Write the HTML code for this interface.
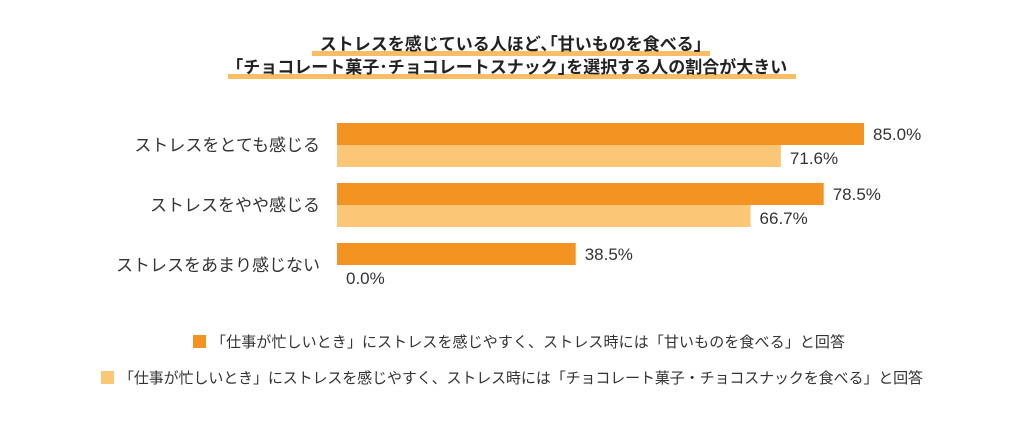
<!DOCTYPE html>
<html><head><meta charset="utf-8">
<style>
body{margin:0;background:#fff;width:1024px;height:428px;overflow:hidden;font-family:"Liberation Sans","Noto Sans CJK JP",sans-serif;}
svg text{font-family:"Liberation Sans","Noto Sans CJK JP",sans-serif;}
</style></head>
<body>
<svg id="chart" width="1024" height="428">
  <g>
    <rect x="312" y="51" width="398" height="5" fill="#f7b24a" opacity="0.85"/>
    <rect x="228" y="74" width="568" height="5" fill="#f7b24a" opacity="0.85"/>
    <text x="511" y="50" text-anchor="middle" font-size="17" font-weight="bold" fill="#222">ストレスを感じている人ほど､｢甘いものを食べる｣</text>
    <text x="511" y="73" text-anchor="middle" font-size="17" font-weight="bold" fill="#222">｢チョコレート菓子･チョコレートスナック｣を選択する人の割合が大きい</text>
  </g>
  <g id="bars"></g>
  <g>
    <rect x="193" y="335" width="13" height="13" fill="#f39321"/>
    <text x="211" y="347" font-size="15" fill="#333" textLength="634">「仕事が忙しいとき」にストレスを感じやすく、ストレス時には「甘いものを食べる」と回答</text>
    <rect x="101" y="371" width="13" height="13" fill="#fbc777"/>
    <text x="119" y="383" font-size="15" fill="#333" textLength="804">「仕事が忙しいとき」にストレスを感じやすく、ストレス時には「チョコレート菓子・チョコスナックを食べる」と回答</text>
  </g>
</svg>
<script>
const categories = ["ストレスをとても感じる","ストレスをやや感じる","ストレスをあまり感じない"];
const sweetsValues = [85.0, 78.5, 38.5];
const chocoValues = [71.6, 66.7, 0.0];
const valueLabelsSweets = ["85.0%","78.5%","38.5%"];
const valueLabelsChoco = ["71.6%","66.7%","0.0%"];

const NS="http://www.w3.org/2000/svg";
const x0=337, pxPer=6.2, groupTop=123, groupStep=60, barH=22;
function xScale(v){return x0+v*pxPer;}
function yScale(i){return groupTop+i*groupStep;}
const g=document.getElementById('bars');
function mk(tag,attrs){const e=document.createElementNS(NS,tag);for(const k in attrs)e.setAttribute(k,attrs[k]);return e;}
categories.forEach((c,i)=>{
  const y=yScale(i);
  const lab=mk('text',{x:320,y:y+barH+6,'text-anchor':'end','font-size':17,fill:'#333'});
  lab.textContent=c;
  
  
  g.appendChild(lab);
  const b1=mk('rect',{x:x0,y:y,width:xScale(sweetsValues[i])-x0,height:barH,fill:'#f39321'});
  
  
  g.appendChild(b1);
  const t1=mk('text',{x:xScale(sweetsValues[i])+9,y:y+17,'font-size':17,fill:'#333'});
  t1.textContent=valueLabelsSweets[i];
  
  
  g.appendChild(t1);
  const b2=mk('rect',{x:x0,y:y+barH,width:xScale(chocoValues[i])-x0,height:barH,fill:'#fbc777'});
  
  
  g.appendChild(b2);
  const t2=mk('text',{x:xScale(chocoValues[i])+9,y:y+barH+19,'font-size':17,fill:'#333'});
  t2.textContent=valueLabelsChoco[i];
  
  
  g.appendChild(t2);
});
</script>
</body></html>
